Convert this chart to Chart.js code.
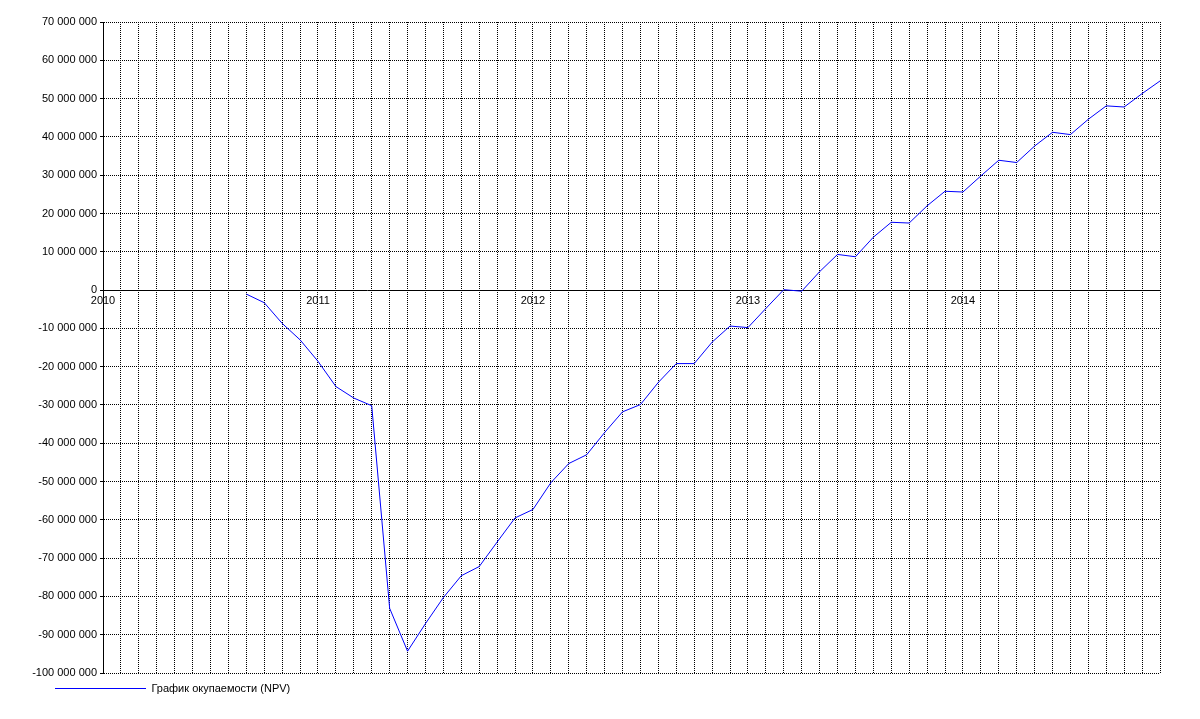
<!DOCTYPE html>
<html>
<head>
<meta charset="utf-8">
<title>График окупаемости (NPV)</title>
<script src="https://cdn.jsdelivr.net/npm/chart.js@4.4.1/dist/chart.umd.min.js"></script>
<style>
    html, body { margin: 0; padding: 0; background: #ffffff; }
    #wrap { width: 1200px; height: 719px; position: relative; }
</style>
</head>
<body>
<div id="wrap"><canvas id="npvChart"></canvas></div>
<script>
// month index counted from Jan 2010 (0) to Dec 2014 (59)
const yearLabels = ['2010', '2011', '2012', '2013', '2014'];
const months = [8, 9, 10, 11, 12, 13, 14, 15, 16, 17, 18, 19, 20, 21, 22, 23, 24, 25, 26, 27,
    28, 29, 30, 31, 32, 33, 34, 35, 36, 37, 38, 39, 40, 41, 42, 43, 44, 45, 46, 47,
    48, 49, 50, 51, 52, 53, 54, 55, 56, 57, 58, 59];
// NPV, millions
const npvMln = [-1.05, -3.3, -8.7, -13.0, -18.6, -25.2, -28.2, -30.2, -83.1, -94.3,
    -87.1, -80.3, -74.6, -72.2, -65.8, -59.5, -57.3, -50.3, -45.3, -43.0,
    -37.2, -31.8, -29.9, -24.1, -19.2, -19.2, -13.6, -9.4, -9.8, -4.8,
    0.1, -0.3, 4.8, 9.3, 8.7, 13.8, 17.7, 17.5, 22.0, 25.8,
    25.6, 29.8, 33.9, 33.3, 37.6, 41.2, 40.6, 44.6, 48.1, 47.8,
    51.3, 54.6];
const seriesName = 'График окупаемости (NPV)';

const yMin = -100000000;
const yMax = 70000000;
const yStep = 10000000;

function formatNum(v) {
    const s = String(Math.round(Math.abs(v))).replace(/\B(?=(\d{3})+(?!\d))/g, ' ');
    return (v < 0 ? '-' : '') + s;
}

const points = months.map((m, i) => ({ x: m, y: npvMln[i] * 1000000 }));

const font = { family: '"Liberation Sans", Arial, sans-serif', size: 11 };

// y labels are wider than the axis box; let them spill into the left padding
const widenYLabels = {
    id: 'widenYLabels',
    afterLayout(c) {
        c.scales.y.left = 0;
    }
};

const ctx = document.getElementById('npvChart').getContext('2d');
const chart = new Chart(ctx, {
    type: 'line',
    data: {
        datasets: [{
            label: seriesName,
            data: points,
            borderColor: '#0000ff',
            backgroundColor: '#0000ff',
            borderWidth: 1,
            pointRadius: 0,
            tension: 0,
            fill: false
        }]
    },
    plugins: [widenYLabels],
    options: {
        responsive: true,
        maintainAspectRatio: false,
        animation: false,
        devicePixelRatio: 1,
        layout: {
            padding: { left: 45, right: 40, top: 22, bottom: 15 }
        },
        plugins: {
            tooltip: { enabled: false },
            legend: {
                position: 'bottom',
                align: 'start',
                labels: {
                    color: '#000000',
                    font: font,
                    usePointStyle: true,
                    pointStyle: 'line',
                    pointStyleWidth: 91,
                    padding: 10
                }
            }
        },
        scales: {
            x: {
                type: 'linear',
                position: { y: 0 },
                min: 0,
                max: 59,
                grid: {
                    color: '#000000',
                    lineWidth: 1,
                    drawTicks: false
                },
                border: {
                    display: true,
                    color: '#000000',
                    width: 1,
                    dash: [1, 1]
                },
                ticks: {
                    stepSize: 1,
                    autoSkip: false,
                    maxRotation: 0,
                    padding: 4,
                    color: '#000000',
                    font: font,
                    callback: (v) => (v % 12 === 0 ? yearLabels[v / 12] : '')
                }
            },
            y: {
                min: yMin,
                max: yMax,
                grid: {
                    color: '#000000',
                    lineWidth: 1,
                    tickLength: 3
                },
                border: {
                    display: true,
                    color: '#000000',
                    width: 1,
                    dash: [1, 1]
                },
                ticks: {
                    stepSize: yStep,
                    padding: 3,
                    color: '#000000',
                    font: font,
                    callback: (v) => formatNum(v)
                },
                afterFit: (scale) => { scale.width = 58; }
            }
        }
    }
});
</script>
</body>
</html>
